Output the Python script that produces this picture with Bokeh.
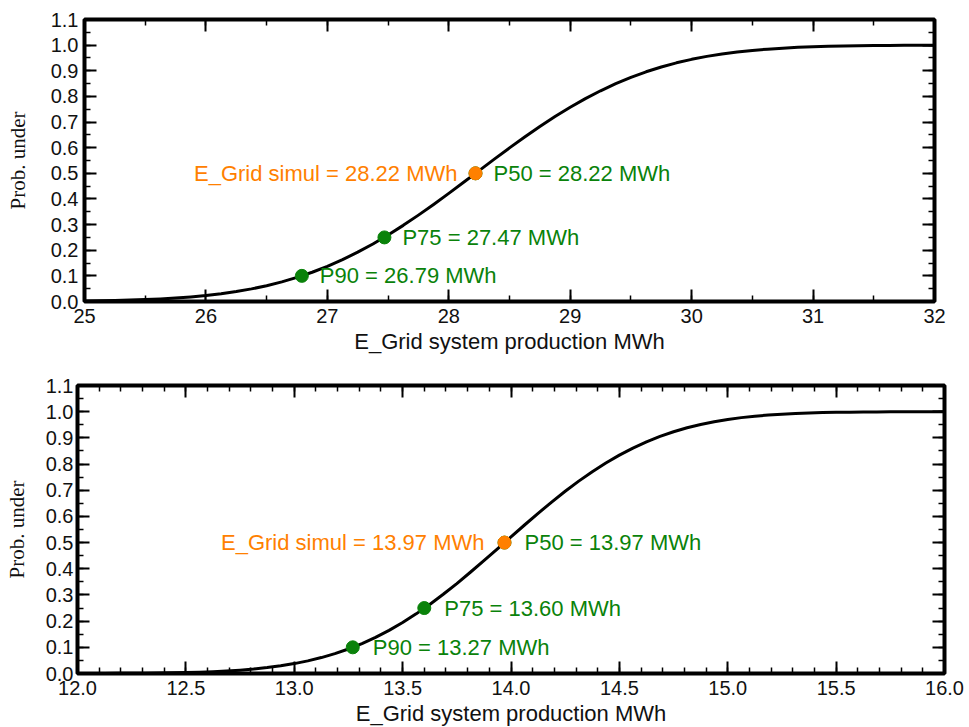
from bokeh.plotting import figure
from bokeh.models import FixedTicker, LinearAxis, PrintfTickFormatter, ColumnDataSource, Range1d
from bokeh.layouts import column, row
from bokeh.embed import file_html
from bokeh.resources import INLINE
from bokeh.core.properties import value

# ---- data ----
top_x = [25.000, 25.125, 25.250, 25.375, 25.500, 25.625, 25.750, 25.875,
         26.000, 26.125, 26.250, 26.375, 26.500, 26.625, 26.750, 26.875,
         27.000, 27.125, 27.250, 27.375, 27.500, 27.625, 27.750, 27.875,
         28.000, 28.125, 28.250, 28.375, 28.500, 28.625, 28.750, 28.875,
         29.000, 29.125, 29.250, 29.375, 29.500, 29.625, 29.750, 29.875,
         30.000, 30.125, 30.250, 30.375, 30.500, 30.625, 30.750, 30.875,
         31.000, 31.125, 31.250, 31.375, 31.500, 31.625, 31.750, 31.875,
         32.000]
top_prob = [0.0020, 0.0028, 0.0039, 0.0054, 0.0074, 0.0100, 0.0134, 0.0178,
            0.0233, 0.0303, 0.0388, 0.0492, 0.0617, 0.0765, 0.0939, 0.1141,
            0.1372, 0.1633, 0.1924, 0.2245, 0.2594, 0.2970, 0.3369, 0.3787,
            0.4219, 0.4661, 0.5107, 0.5553, 0.5991, 0.6417, 0.6826, 0.7214,
            0.7577, 0.7913, 0.8220, 0.8497, 0.8743, 0.8960, 0.9148, 0.9310,
            0.9446, 0.9561, 0.9655, 0.9733, 0.9795, 0.9844, 0.9883, 0.9913,
            0.9936, 0.9954, 0.9967, 0.9977, 0.9984, 0.9989, 0.9992, 0.9995,
            0.9996]

bot_x = [12.0000, 12.0625, 12.1250, 12.1875, 12.2500, 12.3125, 12.3750, 12.4375,
         12.5000, 12.5625, 12.6250, 12.6875, 12.7500, 12.8125, 12.8750, 12.9375,
         13.0000, 13.0625, 13.1250, 13.1875, 13.2500, 13.3125, 13.3750, 13.4375,
         13.5000, 13.5625, 13.6250, 13.6875, 13.7500, 13.8125, 13.8750, 13.9375,
         14.0000, 14.0625, 14.1250, 14.1875, 14.2500, 14.3125, 14.3750, 14.4375,
         14.5000, 14.5625, 14.6250, 14.6875, 14.7500, 14.8125, 14.8750, 14.9375,
         15.0000, 15.0625, 15.1250, 15.1875, 15.2500, 15.3125, 15.3750, 15.4375,
         15.5000, 15.5625, 15.6250, 15.6875, 15.7500, 15.8125, 15.8750, 15.9375,
         16.0000]
bot_prob = [0.0002, 0.0002, 0.0004, 0.0005, 0.0008, 0.0012, 0.0017, 0.0025,
            0.0036, 0.0050, 0.0069, 0.0094, 0.0127, 0.0170, 0.0225, 0.0293,
            0.0378, 0.0483, 0.0608, 0.0759, 0.0936, 0.1143, 0.1379, 0.1648,
            0.1946, 0.2278, 0.2637, 0.3026, 0.3435, 0.3867, 0.4309, 0.4761,
            0.5219, 0.5672, 0.6118, 0.6547, 0.6960, 0.7347, 0.7709, 0.8040,
            0.8342, 0.8611, 0.8849, 0.9056, 0.9234, 0.9386, 0.9513, 0.9618,
            0.9704, 0.9773, 0.9828, 0.9871, 0.9905, 0.9930, 0.9950, 0.9964,
            0.9975, 0.9982, 0.9988, 0.9992, 0.9994, 0.9996, 0.9998, 0.9998,
            0.9999]

p_names = ["P50", "P75", "P90"]
p_levels = [0.5, 0.25, 0.1]
top_p_values = [28.22, 27.47, 26.79]
top_simul = 28.22
bot_p_values = [13.97, 13.60, 13.27]
bot_simul = 13.97

y_tick_labels = ["0.0", "0.1", "0.2", "0.3", "0.4", "0.5", "0.6", "0.7", "0.8", "0.9", "1.0", "1.1"]
top_x_tick_labels = ["25", "26", "27", "28", "29", "30", "31", "32"]
bot_x_tick_labels = ["12.0", "12.5", "13.0", "13.5", "14.0", "14.5", "15.0", "15.5", "16.0"]

ORANGE = "#FF8000"
GREEN = "#0A820A"
FONT = "Liberation Sans"


def make_fig(xs, ys, pvals, simul, x_tick_labels, x_minor_step,
             frame_w, frame_h, b_left, b_right, b_top, b_bottom, fmt,
             ylab_standoff, ytick_standoff, text_off):
    x_ticks = [float(t) for t in x_tick_labels]
    y_ticks = [float(t) for t in y_tick_labels]
    x0, x1 = x_ticks[0], x_ticks[-1]
    nmin = int(round((x1 - x0) / x_minor_step))
    x_minor = [round(x0 + i * x_minor_step, 4) for i in range(nmin + 1)]
    y_minor = [round(i * 0.05, 4) for i in range(23)]

    p = figure(frame_width=frame_w, frame_height=frame_h,
               x_range=Range1d(x0, x1), y_range=Range1d(0, 1.1),
               output_backend="svg", toolbar_location=None,
               min_border_left=b_left, min_border_right=b_right,
               min_border_top=b_top, min_border_bottom=b_bottom,
               background_fill_color="white", border_fill_color="white")
    p.grid.visible = False
    p.outline_line_color = "black"
    p.outline_line_width = 4
    p.outline_line_alpha = 1.0

    xt = FixedTicker(ticks=x_ticks, minor_ticks=x_minor)
    yt = FixedTicker(ticks=y_ticks, minor_ticks=y_minor)

    def style(ax, show_labels):
        ax.axis_line_color = None
        ax.major_tick_in = 12
        ax.major_tick_out = 0
        ax.minor_tick_in = 6
        ax.minor_tick_out = 0
        ax.major_tick_line_width = 2
        ax.minor_tick_line_width = 1.5
        ax.major_tick_line_color = "black"
        ax.minor_tick_line_color = "black"
        if show_labels:
            ax.major_label_text_font = FONT
            ax.major_label_text_font_size = "20px"
            ax.major_label_text_color = "#111111"
        else:
            ax.major_label_text_font_size = "1px"
            ax.major_label_text_color = None
            ax.major_label_standoff = 0

    xa = p.xaxis[0]
    xa.ticker = xt
    xa.formatter = PrintfTickFormatter(format=fmt)
    style(xa, True)
    xa.major_label_standoff = 7
    xa.axis_label = "E_Grid system production MWh"
    xa.axis_label_text_font = FONT
    xa.axis_label_text_font_size = "22px"
    xa.axis_label_text_font_style = "normal"
    xa.axis_label_text_color = "#111111"
    xa.axis_label_standoff = 3

    ya = p.yaxis[0]
    ya.ticker = yt
    ya.formatter = PrintfTickFormatter(format="%.1f")
    style(ya, True)
    ya.major_label_standoff = ytick_standoff
    ya.axis_label = "Prob. under"
    ya.axis_label_text_font = "Liberation Serif"
    ya.axis_label_text_font_size = "21px"
    ya.axis_label_text_font_style = "normal"
    ya.axis_label_text_color = "#111111"
    ya.axis_label_standoff = ylab_standoff

    ra = LinearAxis(ticker=yt)
    style(ra, False)
    p.add_layout(ra, "right")
    ta = LinearAxis(ticker=xt)
    style(ta, False)
    p.add_layout(ta, "above")

    p.line(xs, ys, line_color="black", line_width=3, line_join="round")

    gsrc = ColumnDataSource(dict(
        x=pvals, y=p_levels,
        label=[f"{n} = {v:.2f} MWh" for n, v in zip(p_names, pvals)]))
    p.scatter("x", "y", source=gsrc, size=13, fill_color=GREEN, line_color=GREEN)
    p.text("x", "y", text="label", source=gsrc, x_offset=text_off,
           text_align="left", text_baseline="middle",
           text_font=value(FONT), text_font_size="22px", text_color=GREEN)

    osrc = ColumnDataSource(dict(x=[simul], y=[0.5],
                                 label=[f"E_Grid simul = {simul:.2f} MWh"]))
    p.scatter("x", "y", source=osrc, size=13, fill_color=ORANGE, line_color=ORANGE)
    p.text("x", "y", text="label", source=osrc, x_offset=-text_off,
           text_align="right", text_baseline="middle",
           text_font=value(FONT), text_font_size="22px", text_color=ORANGE)
    return p


p1 = make_fig(top_x, top_prob, top_p_values, top_simul, top_x_tick_labels, 0.5,
              850, 282, 84, 35, 19, 64, "%d", 18, 6, 18)
p2 = make_fig(bot_x, bot_prob, bot_p_values, bot_simul, bot_x_tick_labels, 0.1,
              867, 288, 77, 25, 20, 54, "%.1f", 14, 4, 20)

layout = column(row(p1), row(p2), spacing=0)
open("out.html", "w").write(file_html(layout, INLINE))
